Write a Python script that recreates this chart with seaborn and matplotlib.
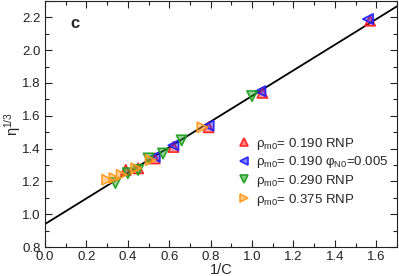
import numpy as np
import pandas as pd
import matplotlib
matplotlib.use("Agg")
import matplotlib.pyplot as plt
import seaborn as sns
from matplotlib.ticker import MultipleLocator, FormatStrFormatter
from matplotlib.colors import to_rgba

# ---- data ----
red_x = [0.39, 0.45, 0.53, 0.62, 0.79, 1.05, 1.57]
red_y = [1.27, 1.28, 1.34, 1.41, 1.53, 1.74, 2.18]
blue_x = [0.53, 0.62, 0.79, 1.04, 1.56]
blue_y = [1.35, 1.42, 1.54, 1.75, 2.19]
green_x = [0.34, 0.40, 0.45, 0.50, 0.57, 0.66, 1.00]
green_y = [1.19, 1.25, 1.27, 1.34, 1.37, 1.45, 1.72]
orange_x = [0.30, 0.335, 0.37, 0.44, 0.51, 0.76]
orange_y = [1.21, 1.22, 1.24, 1.28, 1.33, 1.53]

labels = ["ρ$_{\\rm m0}$= 0.190 RNP",
          "ρ$_{\\rm m0}$= 0.190 φ$_{\\rm N0}$=0.005",
          "ρ$_{\\rm m0}$= 0.290 RNP",
          "ρ$_{\\rm m0}$= 0.375 RNP"]
colors = ["#ff2020", "#2020ff", "#20a020", "#ff9a20"]
markers = ["^", "<", "v", ">"]

fit_intercept = 0.94
fit_slope = 0.781
fit_x = [0.0, 1.72]

# ---- figure ----
sns.set_theme(style="ticks")
plt.rcParams["font.family"] = ["Liberation Sans", "DejaVu Sans"]
plt.rcParams["mathtext.fontset"] = "custom"
plt.rcParams["mathtext.rm"] = "Liberation Sans"
plt.rcParams["mathtext.it"] = "Liberation Sans:italic"
plt.rcParams["mathtext.bf"] = "Liberation Sans:bold"

fig = plt.figure(figsize=(3.99, 2.76), dpi=100)
ax = fig.add_axes([45/399, 1 - 247/276, 352/399, 246/276])

frames = []
for xs, ys, lab in zip([red_x, blue_x, green_x, orange_x],
                       [red_y, blue_y, green_y, orange_y], labels):
    frames.append(pd.DataFrame({"x": xs, "y": ys, "series": lab}))
df = pd.concat(frames, ignore_index=True)

line_df = pd.DataFrame({"x": fit_x,
                        "y": [fit_intercept + fit_slope * v for v in fit_x]})
sns.lineplot(data=line_df, x="x", y="y", color="black", lw=1.3, ax=ax,
             legend=False, zorder=1)

sns.scatterplot(data=df, x="x", y="y", hue="series", style="series",
                hue_order=labels, style_order=labels,
                palette=dict(zip(labels, colors)),
                markers=dict(zip(labels, markers)),
                s=55, linewidth=1.2, ax=ax, zorder=3)

for coll in ax.collections:
    fc = coll.get_facecolors()
    if len(fc) == 0:
        continue
    coll.set_edgecolors([to_rgba(c[:3], 0.95) for c in fc])
    coll.set_facecolors([to_rgba(c[:3], 0.45) for c in fc])

ax.set_xlim(0, 1.7)
ax.set_ylim(0.8, 2.3)
ax.xaxis.set_major_locator(MultipleLocator(0.2))
ax.xaxis.set_minor_locator(MultipleLocator(0.1))
ax.yaxis.set_major_locator(MultipleLocator(0.2))
ax.yaxis.set_minor_locator(MultipleLocator(0.1))
ax.xaxis.set_major_formatter(FormatStrFormatter("%.1f"))
ax.yaxis.set_major_formatter(FormatStrFormatter("%.1f"))
ax.tick_params(which="both", direction="in", top=True, right=True,
               labelsize=9.5, colors="#222222", width=0.8)
ax.tick_params(axis="x", pad=3)
ax.tick_params(axis="y", pad=3)
ax.tick_params(which="major", length=5)
ax.tick_params(which="minor", length=3)
for sp in ax.spines.values():
    sp.set_color("#222222")
    sp.set_linewidth(0.8)
    sp.set_visible(True)

ax.set_xlabel("1/C", fontsize=10.5, labelpad=0)
ax.set_ylabel("η$^{1/3}$", fontsize=10.5)
ax.yaxis.set_label_coords(-0.062, 0.5)
ax.text(0.072, 0.89, "c", transform=ax.transAxes, fontsize=12,
        fontweight="bold")

leg = ax.legend(loc="upper left", bbox_to_anchor=(0.527, 0.49),
                frameon=False, fontsize=9.5, handlelength=0.7,
                handletextpad=0.55, labelspacing=0.2, borderpad=0.2,
                markerscale=0.8)
for h, c in zip(leg.legend_handles, colors):
    h.set_markerfacecolor(to_rgba(c, 0.55))
    h.set_markeredgecolor(to_rgba(c, 0.95))
    h.set_markeredgewidth(1.2)

fig.savefig("out.png", dpi=100)
